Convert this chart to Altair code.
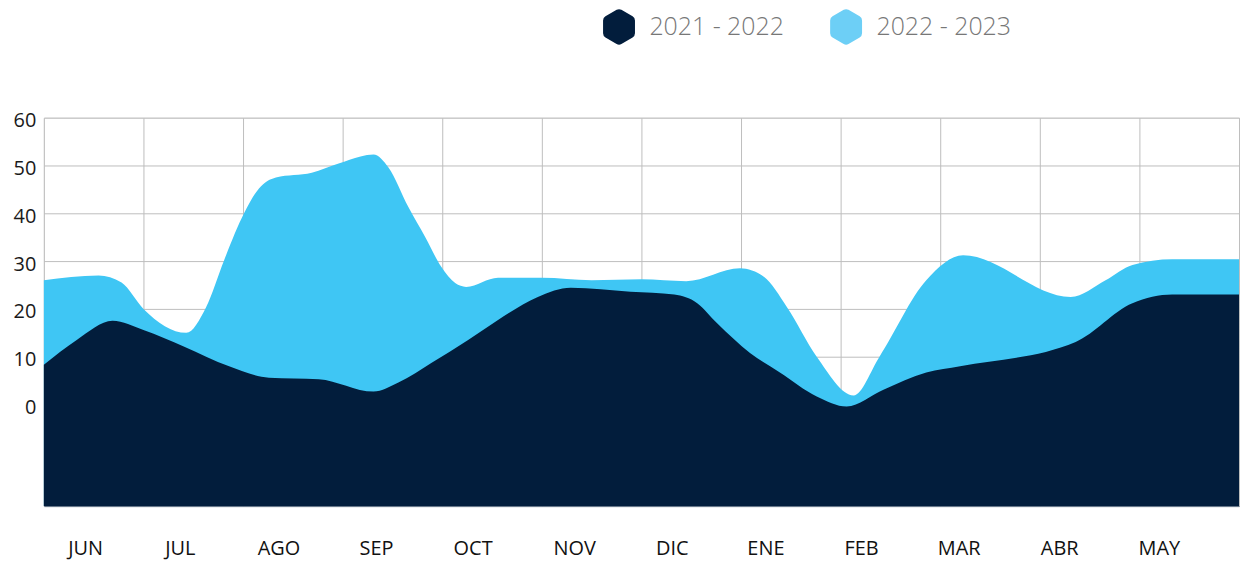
import altair as alt
import pandas as pd

# ---- data (x in month-column units: 0 = left edge of JUN column, 12 = right edge of MAY column)
series_names = ["2021 - 2022", "2022 - 2023"]

dark_x = [0.0, 0.33, 0.69, 1.0, 1.41, 1.86, 2.26, 2.76, 3.31, 3.56, 3.89, 4.26, 4.56, 4.96, 5.29,
          5.89, 6.33, 6.56, 6.76, 7.09, 7.39, 7.76, 8.06, 8.43, 8.86, 9.2, 10.36, 10.93, 11.33, 12.0]
dark_y = [8.3, 13.5, 17.5, 15.6, 12.1, 8.0, 5.6, 5.3, 2.7, 4.6, 8.7, 13.5, 17.7, 22.5, 24.4,
          23.6, 23.0, 21.2, 17.0, 10.8, 6.7, 1.7, -0.4, 3.1, 6.7, 8.0, 13.1, 21.2, 23.0, 23.0]

light_x = [0.0, 0.55, 0.78, 1.0, 1.43, 1.63, 1.81, 2.01, 2.16, 2.33, 2.69, 2.96, 3.18, 3.31,
           3.46, 3.66, 3.83, 3.99, 4.13, 4.24, 4.56, 5.0, 5.5, 6.0, 6.45, 6.99, 7.23, 7.46, 7.76,
           8.13, 8.39, 8.86, 9.23, 10.31, 10.66, 10.93, 11.33, 12.0]
light_y = [26.0, 27.0, 25.5, 20.0, 15.0, 20.4, 30.2, 40.0, 45.2, 47.5, 48.5, 50.4, 51.9, 52.3,
           49.6, 41.3, 35.0, 28.8, 25.4, 24.6, 26.5, 26.5, 26.0, 26.2, 25.8, 28.5, 26.7, 20.4, 10.0,
           1.9, 10.0, 26.0, 31.2, 22.5, 26.0, 29.2, 30.4, 30.4]

months = ["JUN", "JUL", "AGO", "SEP", "OCT", "NOV", "DIC", "ENE", "FEB", "MAR", "ABR", "MAY"]
month_pos = [0.42, 1.37, 2.36, 3.34, 4.31, 5.33, 6.31, 7.25, 8.21, 9.19, 10.20, 11.20]

y_ticks = [0, 10, 20, 30, 40, 50, 60]
x_grid = list(range(13))
Y_MIN, Y_MAX = -21.25, 60

DARK = "#021d3c"
LIGHT = "#3fc6f4"
LEGEND_COLORS = ["#021d3c", "#6dcff6"]

HEX = ("M-0.130,-0.925 Q0,-1 0.130,-0.925 L0.736,-0.575 Q0.866,-0.5 0.866,-0.35 "
       "L0.866,0.35 Q0.866,0.5 0.736,0.575 L0.130,0.925 Q0,1 -0.130,0.925 "
       "L-0.736,0.575 Q-0.866,0.5 -0.866,0.35 L-0.866,-0.35 Q-0.866,-0.5 -0.736,-0.575 Z")

dark_df = pd.DataFrame({"x": dark_x, "y": dark_y})
light_df = pd.DataFrame({"x": light_x, "y": light_y})
month_df = pd.DataFrame({"m": months, "x": month_pos})
legend_df = pd.DataFrame({"series": series_names, "x": [0, 0], "y": [Y_MAX + 50, Y_MAX + 50]})

x_scale = alt.Scale(domain=[0, 12], nice=False, zero=False)
y_scale = alt.Scale(domain=[Y_MIN, Y_MAX], nice=False, zero=False)

x_axis = alt.Axis(values=x_grid, labels=False, ticks=False, title=None, grid=True,
                  gridColor="#bdbdbd", gridWidth=1, domain=True, domainColor="#5a6b80",
                  domainWidth=1)
y_axis = alt.Axis(values=y_ticks, title=None, grid=True, gridColor="#bdbdbd", gridWidth=1,
                  domain=False, ticks=False, labelFontSize=20, labelFont="Open Sans",
                  labelColor="#1a1a1a", labelPadding=8, labelOffset=3)

light_area = alt.Chart(light_df).mark_area(interpolate="monotone", color=LIGHT).encode(
    x=alt.X("x:Q", scale=x_scale, axis=x_axis),
    y=alt.Y("y:Q", scale=y_scale, axis=y_axis),
    y2=alt.datum(Y_MIN),
)

dark_area = alt.Chart(dark_df).mark_area(interpolate="monotone", color=DARK).encode(
    x=alt.X("x:Q", scale=x_scale, axis=x_axis),
    y=alt.Y("y:Q", scale=y_scale, axis=y_axis),
    y2=alt.datum(Y_MIN),
)

month_text = alt.Chart(month_df).mark_text(
    fontSize=20, font="Open Sans", color="#111111", baseline="middle", align="center"
).encode(
    x=alt.X("x:Q", scale=x_scale, axis=x_axis),
    y=alt.value(433),
    text="m:N",
)

legend_pts = alt.Chart(legend_df).mark_point(shape=HEX, filled=True, clip=True, size=1369,
                                             opacity=1).encode(
    x=alt.X("x:Q", scale=x_scale, axis=x_axis),
    y=alt.Y("y:Q", scale=y_scale, axis=y_axis),
    fill=alt.Fill("series:N", scale=alt.Scale(domain=series_names, range=LEGEND_COLORS),
                  legend=alt.Legend(title=None, orient="none", legendX=559, legendY=-110,
                                    direction="horizontal", symbolType=HEX, symbolSize=1369,
                                    symbolStrokeWidth=0, labelFontSize=25, labelFont="Open Sans",
                                    labelFontWeight=300, labelColor="#777777", labelOffset=12,
                                    columnPadding=43, padding=0)),
)

chart = alt.layer(light_area, dark_area, month_text, legend_pts).properties(
    width=1200, height=390,
    autosize=alt.AutoSizeParams(type="none"),
    padding={"left": 36, "top": 109, "right": 1, "bottom": 54},
).configure_view(stroke=None).configure(background="white")

chart.save("out.html", embed_options={"renderer": "svg", "actions": False})
